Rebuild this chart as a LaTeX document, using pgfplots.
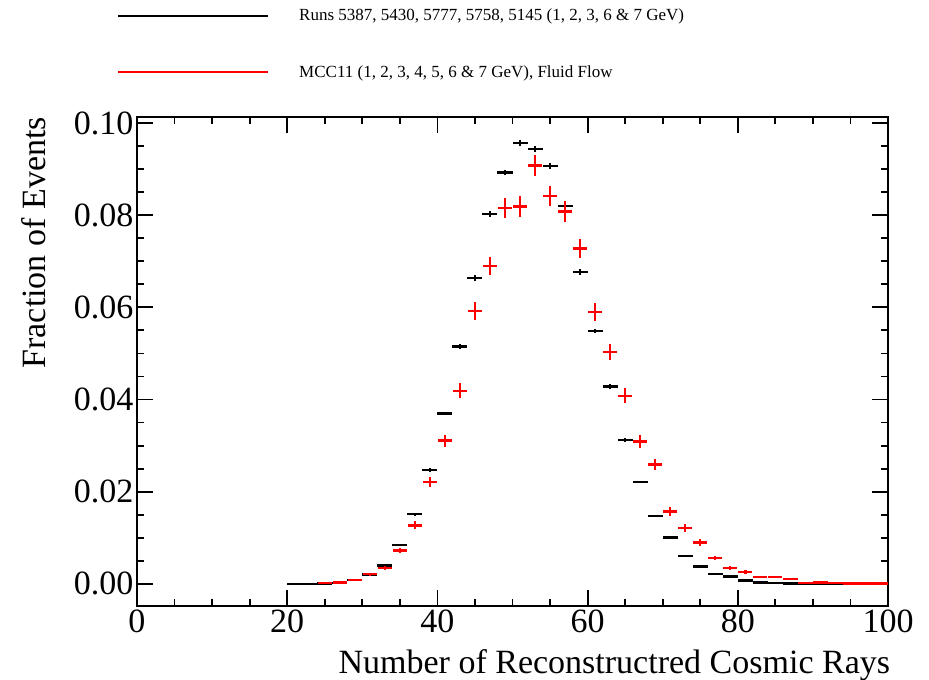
\documentclass[border=0pt]{standalone}
\usepackage{fontspec}
\setmainfont{Liberation Serif}
\usepackage{pgfplots}
\usepackage{pgfplotstable}
\pgfplotsset{compat=1.18}

% data runs: bin centre, fraction, error
\pgfplotstableread{
x y ey
21 0.0000 0
23 0.0000 0
25 0.0001 0
27 0.0002 0
29 0.0008 0.0001
31 0.0020 0.0001
33 0.0040 0.0002
35 0.0085 0.0002
37 0.0151 0.0003
39 0.0247 0.0004
41 0.0370 0.0004
43 0.0515 0.0005
45 0.0664 0.0006
47 0.0803 0.0006
49 0.0893 0.0006
51 0.0957 0.0006
53 0.0943 0.0006
55 0.0907 0.0006
57 0.0820 0.0006
59 0.0677 0.0006
61 0.0549 0.0005
63 0.0428 0.0005
65 0.0312 0.0004
67 0.0221 0.0003
69 0.0147 0.0002
71 0.0101 0.0002
73 0.0061 0.0001
75 0.0038 0.0001
77 0.0022 0
79 0.0016 0
81 0.0007 0
83 0.0003 0
85 0.0002 0
87 0.0001 0
89 0.0001 0
91 0.0001 0
93 0.0000 0
95 0.0000 0
97 0.0000 0
99 0.0000 0
}\datatab

% MCC11 simulation
\pgfplotstableread{
x y ey
25 0.0002 0.0001
27 0.0003 0.0001
29 0.0008 0.0002
31 0.0021 0.0003
33 0.0035 0.0004
35 0.0072 0.0006
37 0.0127 0.0009
39 0.0221 0.0011
41 0.0311 0.0013
43 0.0419 0.0016
45 0.0592 0.0019
47 0.0690 0.0020
49 0.0815 0.0022
51 0.0819 0.0022
53 0.0908 0.0023
55 0.0842 0.0022
57 0.0808 0.0022
59 0.0728 0.0021
61 0.0590 0.0019
63 0.0503 0.0017
65 0.0408 0.0016
67 0.0309 0.0014
69 0.0259 0.0012
71 0.0157 0.0010
73 0.0121 0.0008
75 0.0090 0.0007
77 0.0056 0.0005
79 0.0035 0.0004
81 0.0026 0.0004
83 0.0015 0.0003
85 0.0015 0.0003
87 0.0010 0.0002
89 0.0002 0.0001
91 0.0003 0.0001
93 0.0002 0
95 0.0001 0
97 0.0001 0
99 0.0001 0
}\mcctab

\begin{document}
\begin{tikzpicture}
\useasboundingbox (-137pt,-74pt) rectangle (792pt,606pt);
\begin{axis}[
  scale only axis, width=751pt, height=489pt,
  xmin=0, xmax=100, ymin=-0.0048, ymax=0.1013,
  xtick={0,20,40,60,80,100}, minor x tick num=3,
  ytick={0,0.02,0.04,0.06,0.08,0.1}, minor y tick num=3,
  yticklabel style={/pgf/number format/.cd,fixed,fixed zerofill,precision=2},
  /pgf/number format/assume math mode=true,
  tick label style={font=\fontsize{34}{37}\selectfont},
  label style={font=\fontsize{34}{37}\selectfont},
  scaled y ticks=false,
  major tick length=16pt, minor tick length=7pt,
  axis line style={line width=1.8pt},
  every tick/.style={black,line width=1.8pt},
  xlabel={Number of Reconstructred Cosmic Rays},
  xlabel style={at={(axis description cs:1.003,-0.088)},anchor=north east,inner sep=0pt},
  ylabel={Fraction of Events},
  ylabel style={at={(axis description cs:-0.1538,1.0)},anchor=north east,inner sep=0pt},
  clip=false,
  legend style={draw=none,fill=none,at={(axis description cs:-0.0266,1.221)},
    anchor=north west,inner sep=0pt,row sep=43pt,
    font=\fontsize{17}{20}\selectfont,cells={anchor=west},nodes={inner sep=0pt},
    /tikz/every odd column/.append style={column sep=30pt}},
]
\addplot[draw=none,mark=none,
  legend image code/.code={\draw[black,line width=2pt](0pt,0pt)--(150pt,0pt);},
  error bars/.cd,x dir=both,x fixed=1,y dir=both,y explicit,error mark=none,
  error bar style={draw=black,line width=2.4pt}]
  table[x=x,y=y,y error=ey]{\datatab};
\addlegendentry{Runs 5387, 5430, 5777, 5758, 5145 (1, 2, 3, 6 \& 7 GeV)}
\addplot[draw=none,mark=none,
  legend image code/.code={\draw[red,line width=2pt](0pt,0pt)--(150pt,0pt);},
  error bars/.cd,x dir=both,x fixed=0.95,y dir=both,y explicit,error mark=none,
  error bar style={draw=red,line width=2.4pt}]
  table[x=x,y=y,y error=ey]{\mcctab};
\addlegendentry{MCC11 (1, 2, 3, 4, 5, 6 \& 7 GeV), Fluid Flow}
\end{axis}
\end{tikzpicture}
\end{document}
